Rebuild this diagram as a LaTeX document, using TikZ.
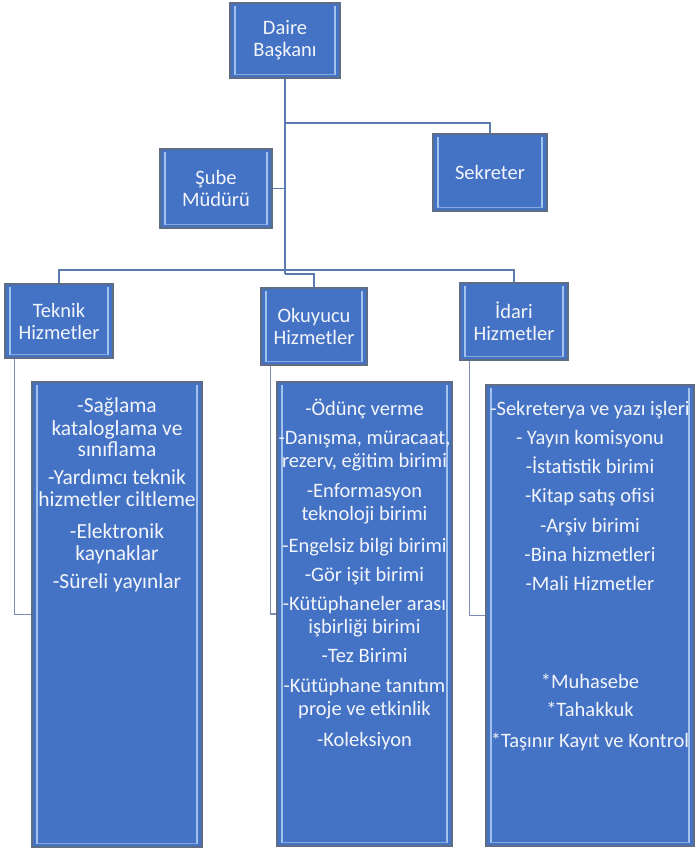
\documentclass[tikz,border=0pt]{standalone}
\usepackage{fontspec}
\setmainfont{Carlito}
\definecolor{boxblue}{HTML}{4472C4}
\definecolor{boxedge}{HTML}{5E6C84}
\definecolor{stripe}{HTML}{A3C2EC}
\definecolor{linkblue}{HTML}{5B7BB2}
\definecolor{linkgray}{HTML}{7C8CB4}
\definecolor{txt}{HTML}{F2F5FB}
\newcommand\orgbox[6]{%
  \node[box, minimum width={(#5-#3)*1pt}, minimum height={(#6-#4)*1pt},
        text width={(#5-#3-6)*1pt}] (#1) at ({(#3+#5)/2},{(#4+#6)/2}) {#2};}
\begin{document}
\begin{tikzpicture}[x=1pt,y=-1pt,
  box/.style={draw=boxedge, line width=1.1pt, fill=boxblue, inner sep=0pt,
    align=center, text=txt, font=\fontsize{20.5}{22}\selectfont,
    path picture={
      \draw[stripe, line width=1.3pt]
        ([xshift=5pt,yshift=-3pt]path picture bounding box.north west) --
        ([xshift=5pt,yshift=3pt]path picture bounding box.south west);
      \draw[stripe, line width=1.3pt]
        ([xshift=-5pt,yshift=-3pt]path picture bounding box.north east) --
        ([xshift=-5pt,yshift=3pt]path picture bounding box.south east);
      \draw[stripe!70!boxblue, line width=1pt]
        ([xshift=5pt,yshift=4pt]path picture bounding box.south west) --
        ([xshift=-5pt,yshift=4pt]path picture bounding box.south east);
    }},
  lbl/.style={anchor=base, text=txt, inner sep=0pt, font=\fontsize{20.5}{22}\selectfont},
  lblbig/.style={lbl, font=\fontsize{21.5}{23}\selectfont},
  link/.style={draw=linkblue, line width=1.2pt},
  link2/.style={draw=linkgray, line width=1.1pt}]
\useasboundingbox (0,0) rectangle (696,852);

\coordinate (hub) at (285,274);
\coordinate (sekjoin) at (285,123);
\coordinate (bar) at (285,270);

\orgbox{daire}{Daire\\Başkanı}{230}{3}{340}{78}
\orgbox{sube}{Şube\\Müdürü}{160}{149}{272}{228}
\orgbox{sek}{Sekreter}{433}{134}{547}{211}
\orgbox{tek}{Teknik\\Hizmetler}{5}{284}{113}{358}
\orgbox{oku}{Okuyucu\\Hizmetler}{261}{288}{367}{365}
\orgbox{ida}{İdari\\Hizmetler}{460}{283}{568}{360}
\orgbox{tekd}{}{32}{382}{202}{847}
\orgbox{okd}{}{277}{382}{452}{846}
\orgbox{idad}{}{486}{385}{694}{846}

\draw[link] (daire.south) -- (hub);
\draw[link] (sekjoin) -| (sek.north);
\draw[link] (sube.east) -- (sube.east -| hub);
\draw[link] (hub) -| (oku.north);
\draw[link] (tek.north) -- (tek.north |- bar) -| (ida.north);
\draw[link2] ([xshift=10pt]tek.south west) |- (tekd.west);
\draw[link2] ([xshift=10pt]oku.south west) |- (okd.west);
\draw[link2] ([xshift=10pt]ida.south west) |- (idad.west);

\foreach \yy/\tt [count=\i] in {412/{-Sağlama}, 435/{kataloglama ve}, 456/{sınıflama},
    484/{-Yardımcı teknik}, 506/{hizmetler ciltleme}, 538/{-Elektronik},
    560/{kaynaklar}, 588/{-Süreli yayınlar}}
  \node[lblbig] (tekt\i) at (117,\yy) {\tt};

\foreach \yy/\tt [count=\i] in {415/{-Ödünç verme}, 444/{-Danışma, müracaat,},
    467/{rezerv, eğitim birimi}, 497/{-Enformasyon}, 520/{teknoloji birimi},
    552/{-Engelsiz bilgi birimi}, 581/{-Gör işit birimi}, 610/{-Kütüphaneler arası},
    633/{işbirliği birimi}, 662/{-Tez Birimi}, 692/{-Kütüphane tanıtım},
    715/{proje ve etkinlik}, 746/{-Koleksiyon}}
  \node[lbl] (okt\i) at (364.5,\yy) {\tt};

\foreach \yy/\tt [count=\i] in {415/{-Sekreterya ve yazı işleri}, 444/{- Yayın komisyonu},
    473/{-İstatistik birimi}, 502/{-Kitap satış ofisi}, 532/{-Arşiv birimi},
    561/{-Bina hizmetleri}, 590/{-Mali Hizmetler}, 688/{*Muhasebe},
    716/{*Tahakkuk}, 747/{*Taşınır Kayıt ve Kontrol}}
  \node[lbl] (idt\i) at (590,\yy) {\tt};
\end{tikzpicture}
\end{document}
